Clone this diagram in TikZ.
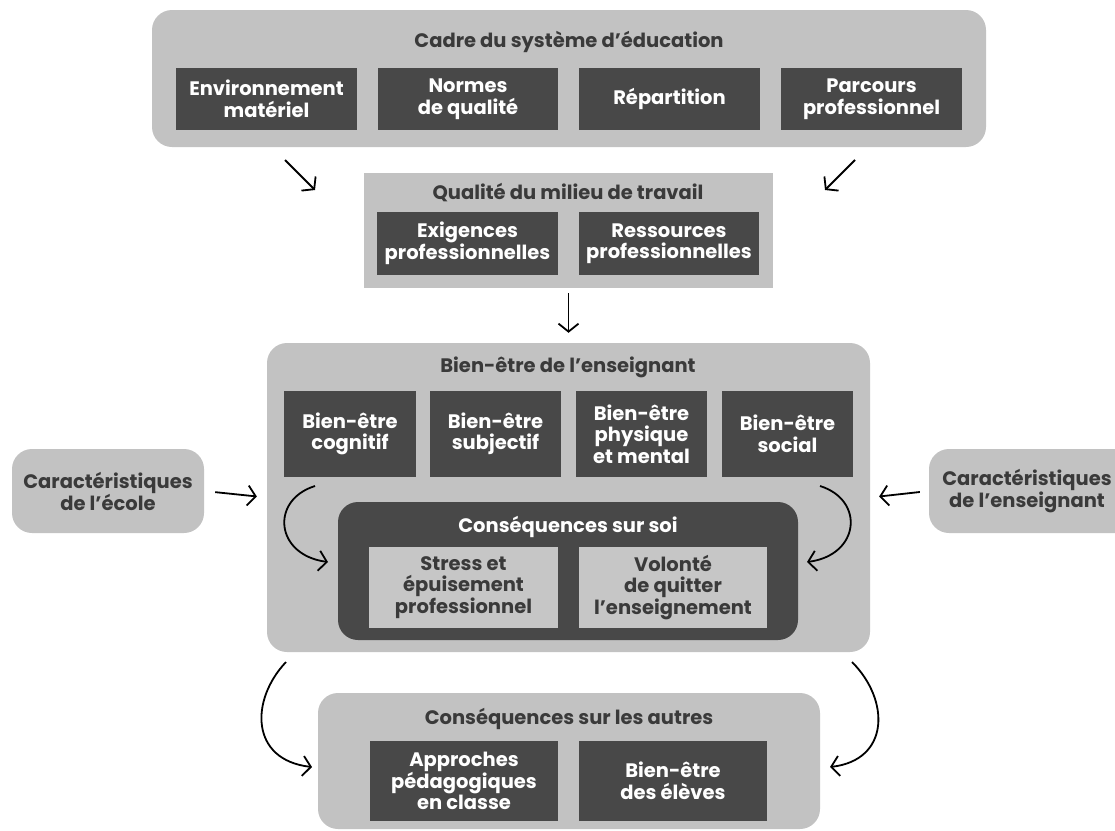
\documentclass[tikz,border=0pt]{standalone}
\usepackage{fontspec}
\setmainfont{Poppins}
\usepackage{tikz}
\usetikzlibrary{arrows.meta}
\usepackage{xcolor}
\definecolor{wbframe}{RGB}{194,194,194}
\definecolor{wbdark}{RGB}{72,72,72}
\definecolor{wbtext}{RGB}{58,58,58}
\definecolor{wblight}{RGB}{198,198,198}
\tikzstyle{outerbox} = [fill=wbframe, rounded corners=20pt, inner sep=0pt]
\tikzstyle{headline} = [text=wbtext, font=\fontsize{19.5}{22}\selectfont\bfseries]
\tikzstyle{darkbox} = [fill=wbdark, text=white, align=center, inner sep=0pt, font=\fontsize{19.5}{21.5}\selectfont\bfseries]
\tikzstyle{lightbox} = [fill=wblight, text=wbtext, align=center, inner sep=0pt, font=\fontsize{19.5}{21.5}\selectfont\bfseries]
\tikzstyle{arrow} = [line width=1.8pt, -{Straight Barb[length=8pt,width=20pt]}]

\begin{document}
\begin{tikzpicture}[x=1pt, y=-1pt]
\useasboundingbox (0,0) rectangle (1115,830);

% Cadre du systeme
\node[outerbox, minimum width=834pt, minimum height=137pt] (cadre) at (569,78.5) {};
\node[headline] (cadretitle) at (569,42) {Cadre du système d’éducation};
\node[darkbox, minimum width=181pt, minimum height=62pt] (envmat) at (266.5,99) {Environnement\\matériel};
\node[darkbox, minimum width=180pt, minimum height=62pt] (normes) at (468,99) {Normes\\de qualité};
\node[darkbox, minimum width=181pt, minimum height=62pt] (repart) at (669.5,99) {Répartition};
\node[darkbox, minimum width=181pt, minimum height=62pt] (parcours) at (871.5,99) {Parcours\\professionnel};

% Qualite du milieu de travail
\node[fill=wbframe, inner sep=0pt, minimum width=409pt, minimum height=115pt] (qualite) at (568.5,230.5) {};
\node[headline] (qualitetitle) at (568,193) {Qualité du milieu de travail};
\node[darkbox, minimum width=181pt, minimum height=63pt] (exig) at (467.5,243.5) {Exigences\\professionnelles};
\node[darkbox, minimum width=180pt, minimum height=63pt] (ress) at (669,243.5) {Ressources\\professionnelles};

% Bien-etre de l'enseignant
\node[outerbox, minimum width=603pt, minimum height=309pt] (bienetre) at (568.5,497.5) {};
\node[headline] (bienetretitle) at (568,367) {Bien-être de l’enseignant};
\node[darkbox, minimum width=132pt, minimum height=86pt] (cognitif) at (350,434) {Bien-être\\cognitif};
\node[darkbox, minimum width=131pt, minimum height=86pt] (subjectif) at (495.5,434) {Bien-être\\subjectif};
\node[darkbox, minimum width=131pt, minimum height=86pt] (physique) at (641.5,434) {Bien-être\\physique\\et mental};
\node[darkbox, minimum width=131pt, minimum height=86pt] (social) at (787.5,434) {Bien-être\\social};

% Consequences sur soi
\node[fill=wbdark, rounded corners=20pt, inner sep=0pt, minimum width=460pt, minimum height=138pt] (soi) at (568,571) {};
\node[headline, text=white] (soititle) at (568,527) {Conséquences sur soi};
\node[lightbox, minimum width=189pt, minimum height=81pt] (stress) at (463.5,587.5) {Stress et\\épuisement\\professionnel};
\node[lightbox, minimum width=188pt, minimum height=81pt] (volonte) at (673,587.5) {Volonté\\de quitter\\l’enseignement};

% Caracteristiques
\node[outerbox, text=wbtext, align=center, minimum width=192pt, minimum height=84pt, font=\fontsize{19.5}{22}\selectfont\bfseries] (ecole) at (108,491) {Caractéristiques\\de l’école};
\node[outerbox, minimum width=206pt, minimum height=84pt] (ensbox) at (1032,491) {};
\node[text=wbtext, align=center, font=\fontsize{19.5}{22}\selectfont\bfseries] (enseignant) at (1027,491) {Caractéristiques\\de l’enseignant};

% Consequences sur les autres
\node[outerbox, minimum width=502pt, minimum height=136pt] (autres) at (569,761) {};
\node[headline] (autrestitle) at (569,719) {Conséquences sur les autres};
\node[darkbox, minimum width=188pt, minimum height=80pt] (approches) at (464,781) {Approches\\pédagogiques\\en classe};
\node[darkbox, minimum width=188pt, minimum height=80pt] (eleves) at (673,781) {Bien-être\\des élèves};

% Arrows
\coordinate (cadreL) at (285,160);
\coordinate (qualL) at (315,190);
\coordinate (cadreR) at (855,160);
\coordinate (qualR) at (825,190);
\draw[arrow] (cadreL) -- (qualL);
\draw[arrow] (cadreR) -- (qualR);
\draw[arrow, shorten <=5pt, shorten >=10pt] (qualite.south) -- (bienetre.north);
\draw[arrow, shorten <=11pt, shorten >=10pt] (ecole.east) -- (bienetre.west);
\draw[arrow, shorten <=9pt, shorten >=9pt] (ensbox.west) -- (bienetre.east);

% Curved arrows
\coordinate (inL1) at (315,486);
\coordinate (inL2) at (328,562);
\coordinate (inR1) at (820,486);
\coordinate (inR2) at (807,562);
\draw[arrow] (inL1) .. controls (270,500) and (275,555) .. (inL2);
\draw[arrow] (inR1) .. controls (865,500) and (860,555) .. (inR2);
\coordinate (outL1) at (286,662);
\coordinate (outL2) at (312,767);
\coordinate (outR1) at (852,662);
\coordinate (outR2) at (830,767);
\draw[arrow] (outL1) .. controls (250,700) and (250,760) .. (outL2);
\draw[arrow] (outR1) .. controls (890,700) and (890,760) .. (outR2);
\end{tikzpicture}
\end{document}
